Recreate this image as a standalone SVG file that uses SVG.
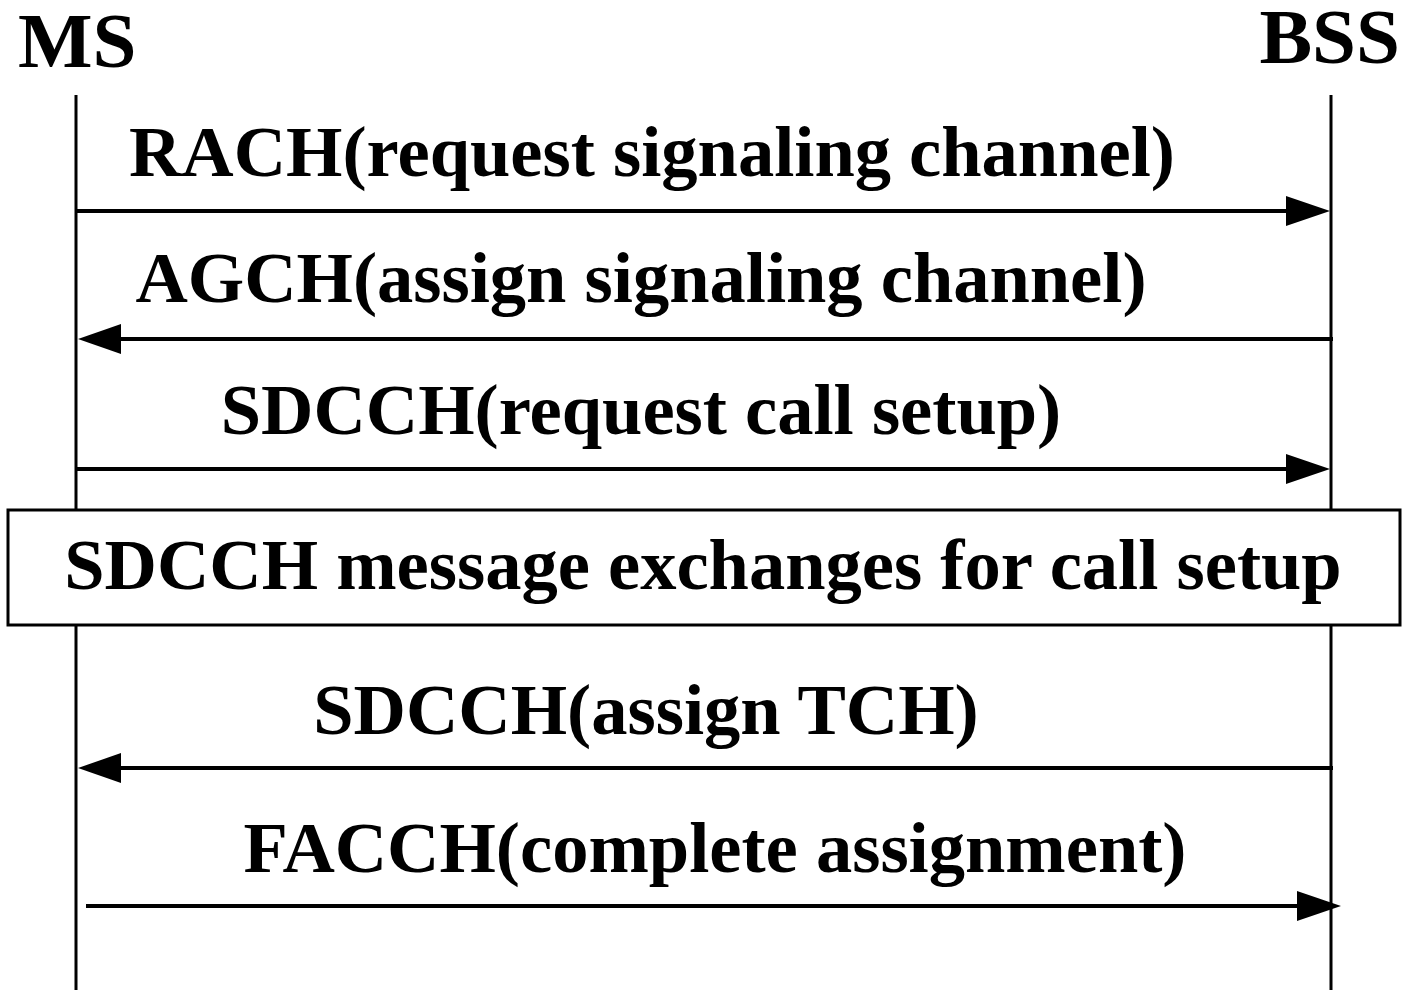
<svg xmlns="http://www.w3.org/2000/svg" width="1407" height="990" viewBox="0 0 1407 990">
<style>
.t{font-family:"Liberation Serif","Times New Roman",serif;font-weight:bold;font-size:72.5px;fill:#000}
.h{font-size:79px}
.life{stroke:#000;stroke-width:3;fill:none}
.msg{stroke:#000;stroke-width:4;fill:none}
.ah{fill:#000}
</style>
<rect width="1407" height="990" fill="#fff"/>
<g id="MS">
<text class="t h" x="18" y="67">MS</text>
<line class="life" x1="76" y1="95" x2="76" y2="990"/>
</g>
<g id="BSS">
<text class="t h" x="1400" y="63" text-anchor="end">BSS</text>
<line class="life" x1="1331" y1="95" x2="1331" y2="990"/>
</g>
<g id="connectors">
<line class="msg" x1="76" y1="211" x2="1290" y2="211"/>
<polygon class="ah" points="1286,196 1330,211 1286,226"/>
<text class="t" x="652" y="176" text-anchor="middle">RACH(request signaling channel)</text>
<line class="msg" x1="1333" y1="339" x2="118" y2="339"/>
<polygon class="ah" points="121,324 78,339 121,354"/>
<text class="t" x="641" y="302" text-anchor="middle">AGCH(assign signaling channel)</text>
<line class="msg" x1="76" y1="469" x2="1290" y2="469"/>
<polygon class="ah" points="1286,454 1330,469 1286,484"/>
<text class="t" x="641" y="434" text-anchor="middle">SDCCH(request call setup)</text>
<line class="msg" x1="1333" y1="768" x2="118" y2="768"/>
<polygon class="ah" points="121,753 78,768 121,783"/>
<text class="t" x="646" y="734" text-anchor="middle">SDCCH(assign TCH)</text>
<line class="msg" x1="86" y1="906" x2="1300" y2="906"/>
<polygon class="ah" points="1297,891 1341,906 1297,921"/>
<text class="t" x="715" y="872" text-anchor="middle">FACCH(complete assignment)</text>
</g>
<g id="box">
<rect x="8" y="510" width="1392" height="115" fill="#fff" stroke="#000" stroke-width="3"/>
<text class="t" x="703" y="589" text-anchor="middle">SDCCH message exchanges for call setup</text>
</g>
</svg>
